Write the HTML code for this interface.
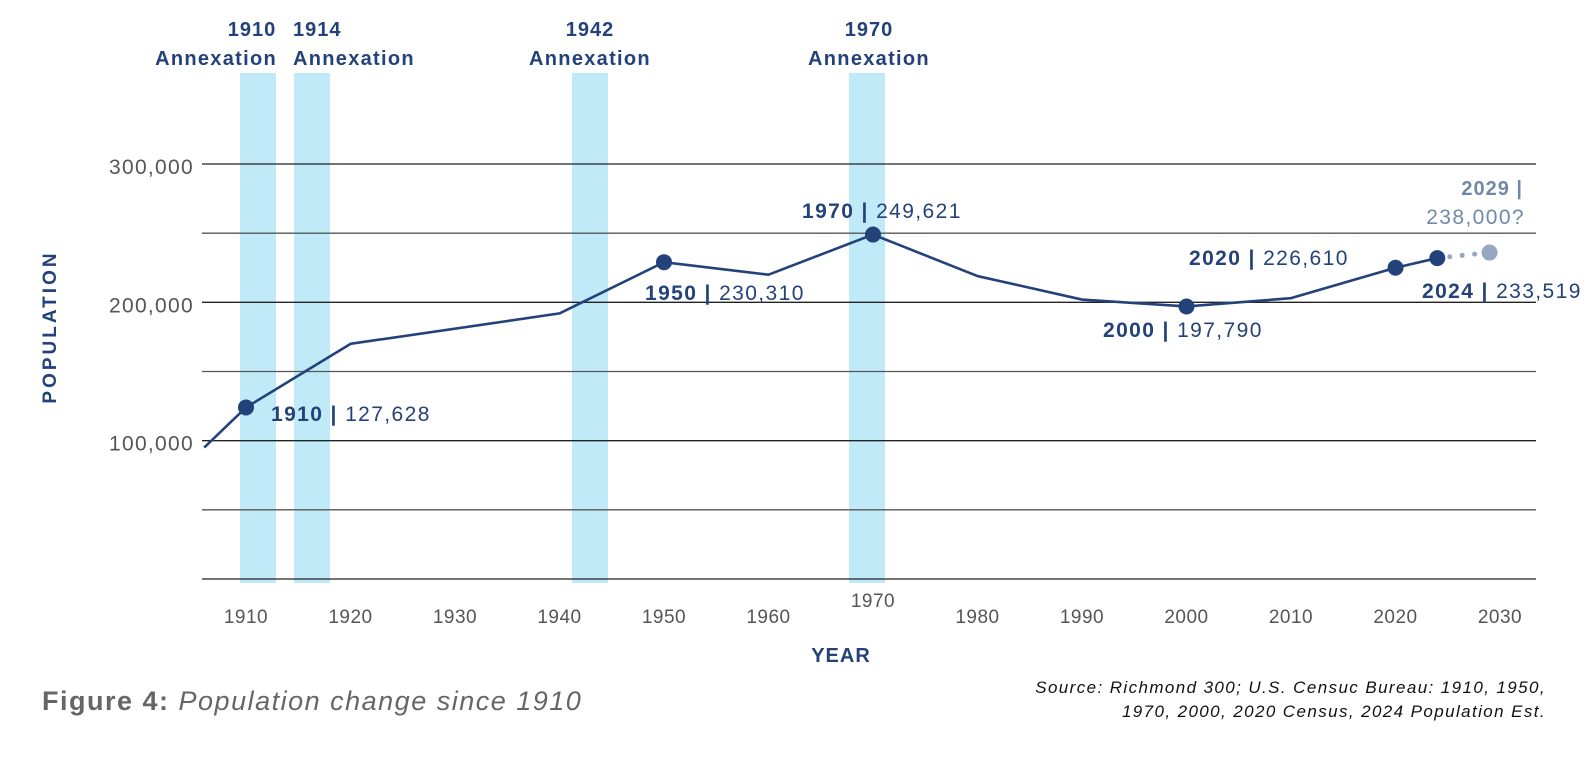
<!DOCTYPE html>
<html><head><meta charset="utf-8"><style>
html,body{margin:0;padding:0;background:#fff;}
svg{display:block;font-family:"Liberation Sans",sans-serif;}
</style></head><body>
<svg id="chart" width="1596" height="758" viewBox="0 0 1596 758"></svg>
<script>
const years=[1906,1910,1920,1940,1950,1960,1970,1980,1990,2000,2010,2020,2024];
const pops=[95000,124000,170000,192000,229000,220000,249000,219000,202000,197000,203000,225000,232000];
const projYears=[2024,2029];
const projPops=[232000,236000];
const yTicks=[0,50000,100000,150000,200000,250000,300000];
const yTickLabels=["","","100,000","","200,000","","300,000"];
const xTicks=[1910,1920,1930,1940,1950,1960,1970,1980,1990,2000,2010,2020,2030];
const annexYears=[1910,1914,1942,1970];
const markYears=[1910,1950,1970,2000,2020,2024];
const markLabelYear=["1910","1950","1970","2000","2020","2024"];
const markLabelVal=["127,628","230,310","249,621"," 197,790","226,610","233,519"];

const NS="http://www.w3.org/2000/svg";
const svg=document.getElementById('chart');
const X=y=>246+(y-1910)*10.45;
const Y=v=>579-v*415/300000;
const NAVY="#24427a";
function mk(tag,attrs,txt){const e=document.createElementNS(NS,tag);for(const k in attrs)e.setAttribute(k,attrs[k]);if(txt!==undefined)e.textContent=txt;svg.appendChild(e);return e;}

const bandX=[240,294,572,849];
annexYears.forEach((a,i)=>{
  const r=mk('rect',{x:bandX[i],y:73,width:36,height:510,fill:"#c1eaf9"});
  
  
});
yTicks.forEach((t,i)=>{
  const l=mk('line',{x1:202,x2:1536,y1:Y(t),y2:Y(t),stroke:i%2?"#555":"#222","stroke-width":1.3});
  
  
  if(yTickLabels[i]){
    const tx=mk('text',{x:194,y:Y(t)+10,"text-anchor":"end","font-size":21,"letter-spacing":"1.3",fill:"#555"},yTickLabels[i]);
    
    
  }
});
xTicks.forEach(t=>{
  const tx=mk('text',{x:X(t),y:t===1970?607:623,"text-anchor":"middle","font-size":19,"letter-spacing":"0.5",fill:"#555"},String(t));
  
  
});
const annexLabelX=[277,293,590,869];
const annexAnchor=["end","start","middle","middle"];
annexYears.forEach((a,i)=>{
  const t1=mk('text',{x:annexAnchor[i]==="end"?252:annexAnchor[i]==="start"?293:annexLabelX[i],y:36,"text-anchor":annexAnchor[i]==="end"?"middle":annexAnchor[i],"font-size":20,"letter-spacing":"1","font-weight":"bold",fill:NAVY},String(a));
  
  
  const t2=mk('text',{x:annexLabelX[i],y:65,"text-anchor":annexAnchor[i],"font-size":20,"letter-spacing":"1.3","font-weight":"bold",fill:NAVY},"Annexation");
  
  
});
const pts=years.map((y,i)=>X(y)+","+Y(pops[i])).join(" ");
const pl=mk('polyline',{points:pts,fill:"none",stroke:NAVY,"stroke-width":2.6,"stroke-linejoin":"round"});


for(let k=1;k<=3;k++){
  const f=k/4.2;
  const c=mk('circle',{cx:X(projYears[0])+(X(projYears[1])-X(projYears[0]))*f,cy:Y(projPops[0])+(Y(projPops[1])-Y(projPops[0]))*f,r:2.5,fill:"#97a6c2"});
  
  
}
const pc=mk('circle',{cx:X(projYears[1]),cy:Y(projPops[1]),r:8,fill:"#97a6c2"});


markYears.forEach(my=>{
  const i=years.indexOf(my);
  const c=mk('circle',{cx:X(my),cy:Y(pops[i]),r:8,fill:NAVY});
  
  
});
const lblPos=[[271,421],[645,300],[802,218],[1103,337],[1189,265],[1422,298]];
markLabelYear.forEach((y,i)=>{
  const t=mk('text',{x:lblPos[i][0],y:lblPos[i][1],"font-size":21,"letter-spacing":"1.4",fill:NAVY});
  
  
  const a=document.createElementNS(NS,'tspan');a.setAttribute('font-weight','bold');a.textContent=y+" | ";t.appendChild(a);
  const b=document.createElementNS(NS,'tspan');b.textContent=markLabelVal[i];t.appendChild(b);
});
</script>
<div style="position:absolute;left:0;top:0;width:1596px;height:758px;pointer-events:none;font-family:'Liberation Sans',sans-serif;">
  <div style="position:absolute;right:73px;top:178px;font-size:20px;font-weight:bold;letter-spacing:1px;color:#7088aa;">2029 |</div>
  <div style="position:absolute;right:71px;top:206px;font-size:21px;letter-spacing:1.4px;color:#7088aa;">238,000?</div>
  <div style="position:absolute;left:-29px;top:316px;width:160px;text-align:center;transform:rotate(-90deg);font-size:19px;font-weight:bold;color:#24427a;letter-spacing:3px;">POPULATION</div>
  <div style="position:absolute;left:791px;top:645px;width:100px;text-align:center;font-size:20px;font-weight:bold;letter-spacing:1px;color:#24427a;">YEAR</div>
  <div style="position:absolute;left:42px;top:686px;font-size:27px;letter-spacing:1.5px;color:#666;"><b>Figure 4:</b> <i>Population change since 1910</i></div>
  <div style="position:absolute;right:50px;top:676px;text-align:right;font-size:17px;font-style:italic;letter-spacing:1.4px;color:#111;line-height:24px;">Source: Richmond 300; U.S. Censuc Bureau: 1910, 1950,<br>1970, 2000, 2020 Census, 2024 Population Est.</div>
</div>
</body></html>
